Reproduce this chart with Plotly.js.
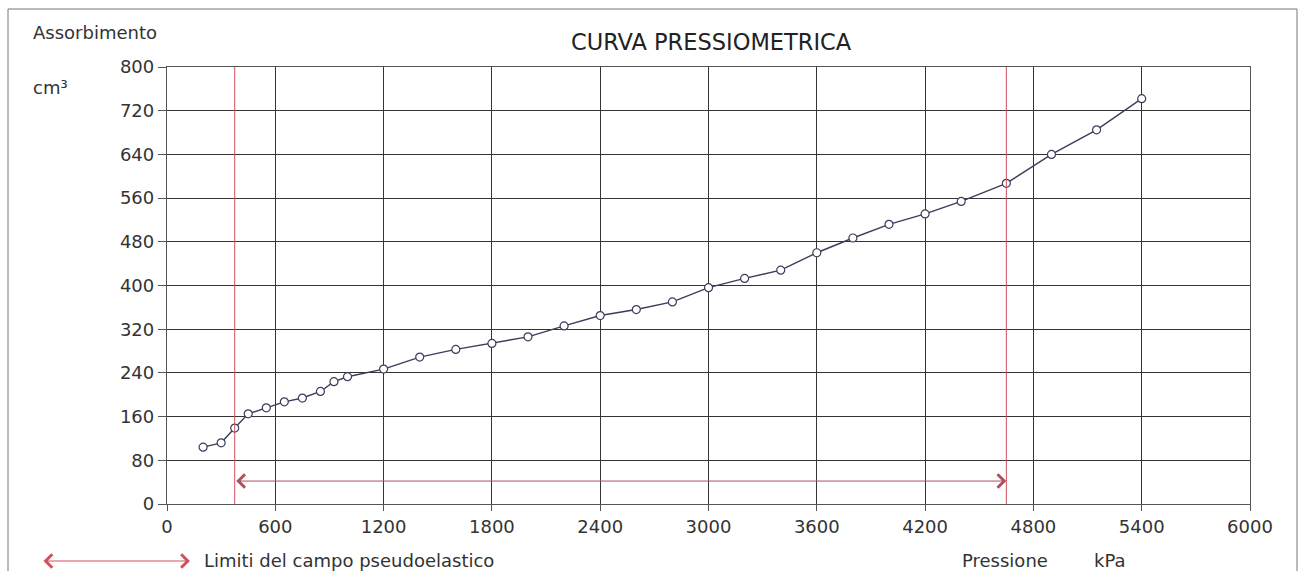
<!DOCTYPE html>
<html>
<head>
<meta charset="utf-8">
<script src="https://cdn.plot.ly/plotly-3.0.1.min.js"></script>
<style>html,body{margin:0;padding:0;background:#fff;}#chart{width:1303px;height:571px;}</style>
</head>
<body>
<div id="chart"></div>
<script>
// Pressione (kPa)
const pressione = [200, 300, 375, 450, 550, 650, 750, 850, 925, 1000, 1200, 1400, 1600, 1800, 2000, 2200, 2400, 2600, 2800, 3000, 3200, 3400, 3600, 3800, 4000, 4200, 4400, 4650, 4900, 5150, 5400];
// Assorbimento (cm³)
const assorbimento = [104, 112, 139, 165, 176, 187, 194, 206, 224, 233, 247, 269, 283, 294, 306, 326, 345, 356, 370, 396, 413, 428, 460, 487, 512, 531, 554, 587, 640, 685, 742];
// Limiti del campo pseudoelastico (kPa)
const limiti = [375, 4650];
const arrowLevel = 42;
const xTicks = [0, 600, 1200, 1800, 2400, 3000, 3600, 4200, 4800, 5400, 6000];
const yTicks = [0, 80, 160, 240, 320, 400, 480, 560, 640, 720, 800];

const fam = 'DejaVu Sans, Verdana, sans-serif';
const font = {family: fam, color: '#333', size: 18};
const tickFont = {family: fam, color: '#333', size: 18};
const red = '#d0505f';

const trace = {
  x: pressione, y: assorbimento, type: 'scatter', mode: 'lines+markers',
  line: {color: '#3c3c5c', width: 1.4},
  marker: {symbol: 'circle', size: 8, color: '#ffffff', line: {width: 1.2, color: '#3c3c5c'}},
  hoverinfo: 'x+y', showlegend: false
};

const shapes = limiti.map(v => ({
  type: 'line', xref: 'x', yref: 'paper', x0: v, x1: v, y0: 0, y1: 1,
  line: {color: red, width: 1}
}));
shapes.push({
  type: 'rect', xref: 'paper', yref: 'paper',
  x0: -0.1468, x1: 1.0434, y0: -0.3, y1: 1.1327,
  line: {color: '#777', width: 1}
});

const annotations = [
  {
    x: limiti[1], y: arrowLevel, ax: limiti[0], ay: arrowLevel,
    xref: 'x', yref: 'y', axref: 'x', ayref: 'y',
    showarrow: true, arrowside: 'end+start', arrowhead: 4, startarrowhead: 4,
    arrowsize: 2.6, startarrowsize: 2.6, arrowwidth: 1, arrowcolor: '#b0505e', text: ''
  },
  {
    x: 0.0212, y: -0.1304, xref: 'paper', yref: 'paper', ax: -148, ay: 0,
    showarrow: true, arrowside: 'end+start', arrowhead: 4, startarrowhead: 4,
    arrowsize: 2.6, startarrowsize: 2.6, arrowwidth: 1, arrowcolor: red, text: ''
  },
  {x: 0.032, y: -0.1304, xref: 'paper', yref: 'paper', xanchor: 'left', yanchor: 'middle',
   text: 'Limiti del campo pseudoelastico', showarrow: false, font: font},
  {x: 0.7325, y: -0.1304, xref: 'paper', yref: 'paper', xanchor: 'left', yanchor: 'middle',
   text: 'Pressione', showarrow: false, font: font},
  {x: 0.8545, y: -0.1304, xref: 'paper', yref: 'paper', xanchor: 'left', yanchor: 'middle',
   text: 'kPa', showarrow: false, font: font},
  {x: -0.1255, y: 1.080, xref: 'paper', yref: 'paper', xanchor: 'left', yanchor: 'middle',
   text: 'Assorbimento', showarrow: false, font: font},
  {x: -0.1255, y: 0.954, xref: 'paper', yref: 'paper', xanchor: 'left', yanchor: 'middle',
   text: 'cm³', showarrow: false, font: font}
];

const layout = {
  width: 1303, height: 571,
  margin: {l: 167, r: 53, t: 67, b: 67},
  paper_bgcolor: '#fff', plot_bgcolor: '#fff',
  font: font,
  title: {text: 'CURVA PRESSIOMETRICA', x: 0.5457, xanchor: 'center', y: 0.927, yanchor: 'middle',
          font: {family: fam, size: 22.5, color: '#222'}},
  xaxis: {
    range: [0, 6000], tickvals: xTicks, ticktext: xTicks.map(String),
    showgrid: true, gridcolor: '#333', gridwidth: 1.4, zeroline: false,
    showline: true, linecolor: '#555', linewidth: 1.3, mirror: true,
    ticks: 'outside', ticklen: 6, tickcolor: '#555', tickfont: tickFont
  },
  yaxis: {
    range: [0, 800], tickvals: yTicks, ticktext: yTicks.map(String),
    showgrid: true, gridcolor: '#333', gridwidth: 1.4, zeroline: false,
    showline: true, linecolor: '#555', linewidth: 1.3, mirror: true,
    ticks: 'outside', ticklen: 8, tickcolor: '#555', tickfont: tickFont
  },
  shapes: shapes,
  annotations: annotations,
  showlegend: false
};

Plotly.newPlot('chart', [trace], layout, {displayModeBar: false});
</script>
</body>
</html>
